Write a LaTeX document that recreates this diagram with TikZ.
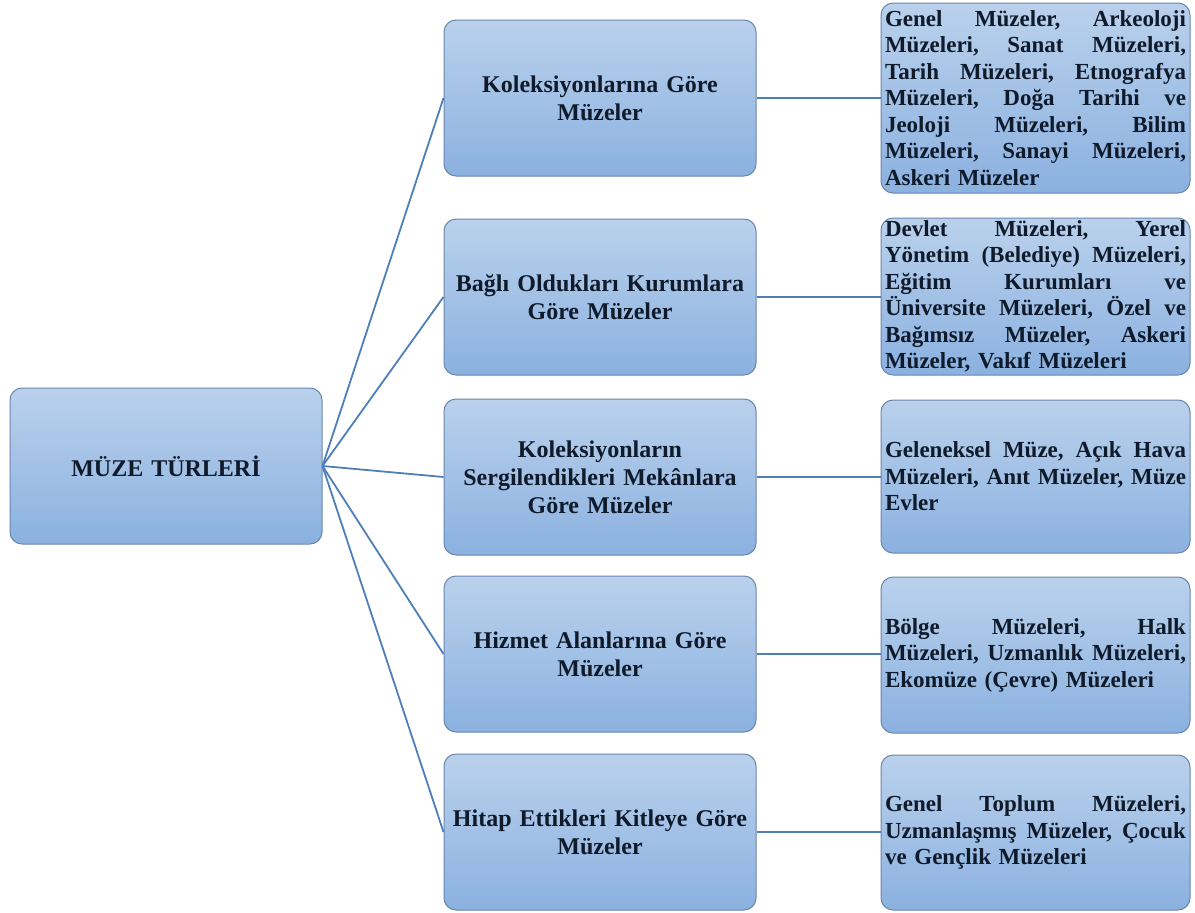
\documentclass[tikz,border=0pt]{standalone}
\usepackage{fontspec}
\setmainfont{Liberation Serif}
\definecolor{boxtop}{HTML}{BAD1EC}
\definecolor{boxbot}{HTML}{8BB1E0}
\definecolor{boxedge}{HTML}{6A86AC}
\definecolor{linkcol}{HTML}{4F7FB8}
\definecolor{txt}{HTML}{0F1A2A}
\newcommand\jline[1]{\noindent\hbox to 301pt{#1}\par}
\newcommand\jw{\hfill}
\tikzset{
  box/.style={rectangle, rounded corners=12pt, draw=boxedge, line width=1pt,
    top color=boxtop, bottom color=boxbot, inner sep=0pt, text=txt},
  midbox/.style={box, minimum width=312pt, minimum height=156pt, align=center, text width=306pt,
    font=\bfseries\fontsize{24}{28}\selectfont},
  rbox/.style={box, minimum width=309pt, text width=301pt,
    font=\bfseries\fontsize{23}{26.5}\selectfont},
  link/.style={draw=linkcol, line width=1.8pt}
}
\begin{document}
\begin{tikzpicture}[x=1pt,y=-1pt]
\useasboundingbox[fill=white] (0,0) rectangle (1195,913);
\node[midbox] (root) at (166,466) {MÜZE TÜRLERİ};
\node[midbox] (m1) at (600,98) {Koleksiyonlarına Göre\\Müzeler};
\node[midbox] (m2) at (600,297) {Bağlı Oldukları Kurumlara\\Göre Müzeler};
\node[midbox] (m3) at (600,477) {Koleksiyonların\\Sergilendikleri Mekânlara\\Göre Müzeler};
\node[midbox] (m4) at (600,654) {Hizmet Alanlarına Göre\\Müzeler};
\node[midbox] (m5) at (600,832) {Hitap Ettikleri Kitleye Göre\\Müzeler};
\node[rbox, minimum height=190pt] (r1) at (1035.5,98) {%
\jline{Genel\jw Müzeler,\jw Arkeoloji}%
\jline{Müzeleri,\jw Sanat\jw Müzeleri,}%
\jline{Tarih\jw Müzeleri,\jw Etnografya}%
\jline{Müzeleri,\jw Doğa\jw Tarihi\jw ve}%
\jline{Jeoloji\jw Müzeleri,\jw Bilim}%
\jline{Müzeleri,\jw Sanayi\jw Müzeleri,}%
\jline{Askeri Müzeler\hfil}};
\node[rbox, minimum height=157pt] (r2) at (1035.5,296.5) {%
\jline{Devlet\jw Müzeleri,\jw Yerel}%
\jline{Yönetim\jw (Belediye)\jw Müzeleri,}%
\jline{Eğitim\jw Kurumları\jw ve}%
\jline{Üniversite\jw Müzeleri,\jw Özel\jw ve}%
\jline{Bağımsız\jw Müzeler,\jw Askeri}%
\jline{Müzeler, Vakıf Müzeleri\hfil}};
\node[rbox, minimum height=153pt] (r3) at (1035.5,476.5) {%
\jline{Geleneksel\jw Müze,\jw Açık\jw Hava}%
\jline{Müzeleri,\jw Anıt\jw Müzeler,\jw Müze}%
\jline{Evler\hfil}};
\node[rbox, minimum height=156pt] (r4) at (1035.5,655) {%
\jline{Bölge\jw Müzeleri,\jw Halk}%
\jline{Müzeleri,\jw Uzmanlık\jw Müzeleri,}%
\jline{Ekomüze (Çevre) Müzeleri\hfil}};
\node[rbox, minimum height=155pt] (r5) at (1035.5,832.5) {%
\jline{Genel\jw Toplum\jw Müzeleri,}%
\jline{Uzmanlaşmış\jw Müzeler,\jw Çocuk}%
\jline{ve Gençlik Müzeleri\hfil}};
\foreach \i in {1,...,5} {
  \path[link] (root.east) -- (m\i.west);
  \path[link] (m\i.east) -- (r\i.west |- m\i.east);
}
\end{tikzpicture}
\end{document}
